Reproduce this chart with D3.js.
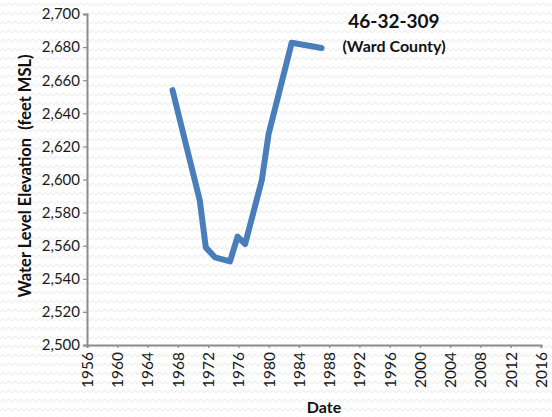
<!DOCTYPE html>
<html><head><meta charset="utf-8">
<script src="https://cdn.jsdelivr.net/npm/d3@7"></script>
<style>body{margin:0;background:#fff}svg{display:block}</style>
</head><body><svg id="c" width="552" height="417"></svg>
<script>
const years = [1967.3, 1970.9, 1971.7, 1972.9, 1974.9, 1975.9, 1976.9, 1979.1, 1980.0, 1983.05, 1987.0];
const levels = [2654, 2587.5, 2559, 2553, 2550.5, 2565.5, 2561, 2599.5, 2627.5, 2682.6, 2679.5];
const xTicks = d3.range(1956, 2017, 4);
const yTicks = d3.range(2500, 2701, 20);
const title = "46-32-309";
const subtitle = "(Ward County)";
const yTitle = "Water Level Elevation  (feet MSL)";
const xTitle = "Date";

const svg = d3.select("#c");
const font = "Lato, 'Open Sans', sans-serif";

// subtle zigzag texture
const defs = svg.append("defs");
const pat = defs.append("pattern").attr("id","zz").attr("width",12).attr("height",9).attr("patternUnits","userSpaceOnUse");
pat.append("path").attr("d","M0,6 L3,3 L6,6 L9,3 L12,6").attr("fill","none").attr("stroke","#efefef").attr("stroke-width",1.2);
svg.append("rect").attr("width",552).attr("height",417).attr("fill","#fff");
svg.append("rect").attr("width",552).attr("height",417).attr("fill","url(#zz)");

const x = d3.scaleLinear().domain([1956, 2016]).range([87, 541]);
const y = d3.scaleLinear().domain([2500, 2700]).range([345, 14]);

const gy = svg.append("g").attr("transform","translate(87,0)")
  .call(d3.axisLeft(y).tickValues(yTicks).tickFormat(d3.format(",")).tickSize(4).tickPadding(3));
const gx = svg.append("g").attr("transform","translate(0,345)")
  .call(d3.axisBottom(x).tickValues(xTicks).tickFormat(d3.format("d")).tickSize(3));
[gx, gy].forEach(g => {
  g.select(".domain").attr("stroke","#8c8c8c").attr("stroke-width",2);
  g.selectAll(".tick line").attr("stroke","#8c8c8c").attr("stroke-width",1.2);
  g.selectAll("text").attr("font-family",font).attr("font-size",15).attr("fill","#1a1a1a");
});
gx.selectAll("text").attr("font-size",15.5).attr("transform","rotate(-90)").attr("text-anchor","end")
  .attr("x",-7).attr("y",0).attr("dy","0.35em");

const line = d3.line().x((d,i)=>x(years[i])).y(d=>y(d));
svg.append("path").datum(levels).attr("d",line).attr("fill","none")
  .attr("stroke","#4a7ebb").attr("stroke-width",6).attr("stroke-linecap","round").attr("stroke-linejoin","round");

svg.append("text").attr("x",394).attr("y",28).attr("text-anchor","middle")
  .attr("font-family",font).attr("font-weight","bold").attr("font-size",19).attr("fill","#111").text(title);
svg.append("text").attr("x",394).attr("y",52).attr("text-anchor","middle")
  .attr("font-family",font).attr("font-weight","bold").attr("font-size",16).attr("fill","#111").text(subtitle);
svg.append("text").attr("transform","translate(31,176) rotate(-90)").attr("text-anchor","middle")
  .attr("font-family",font).attr("font-weight","bold").attr("font-size",16.5).attr("fill","#111")
  .attr("xml:space","preserve").style("white-space","pre").text(yTitle);
svg.append("text").attr("x",324).attr("y",413).attr("text-anchor","middle")
  .attr("font-family",font).attr("font-weight","bold").attr("font-size",16).attr("fill","#111").text(xTitle);
</script></body></html>
